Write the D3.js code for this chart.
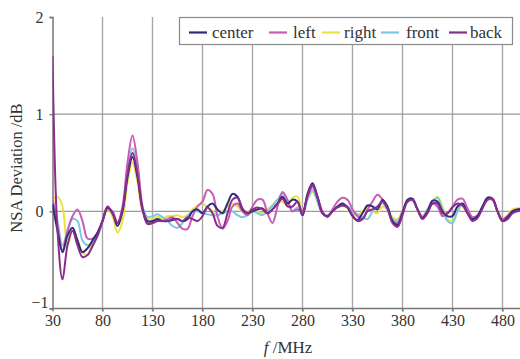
<!DOCTYPE html>
<html><head><meta charset="utf-8">
<script src="https://cdn.jsdelivr.net/npm/d3@7"></script>
<style>html,body{margin:0;padding:0;background:#fff;}svg{display:block;}</style>
</head><body>
<svg id="chart" width="520" height="359"></svg>
<script>
const freqs = d3.range(30, 501, 5);
const xTicks = [30, 80, 130, 180, 230, 280, 330, 380, 430, 480];
const yTicks = [-1, 0, 1, 2];
const seriesNames = ["center", "left", "right", "front", "back"];
const seriesColors = ["#2c2c78", "#c85cb8", "#ece23c", "#7cc8e2", "#8a2c8c"];

const center = [0.08,-0.2,-0.42,-0.25,-0.17,-0.3,-0.42,-0.38,-0.3,-0.22,-0.1,0.04,-0.02,-0.15,0.0,0.35,0.56,0.35,0.02,-0.1,
-0.1,-0.08,-0.1,-0.1,-0.09,-0.08,-0.1,-0.08,0.0,0.02,-0.02,0.05,0.08,0.02,-0.02,0.08,0.18,0.15,0.02,-0.02,
0.0,0.02,0.03,-0.02,0.02,0.08,0.15,0.08,0.12,0.1,-0.04,0.18,0.29,0.15,-0.02,-0.05,0.0,0.05,0.08,0.04,
-0.05,-0.09,-0.02,0.06,0.05,0.02,0.12,0.05,-0.1,-0.14,-0.02,0.12,0.13,0.02,-0.07,0.0,0.11,0.1,0.0,-0.05,
-0.05,0.05,0.08,-0.02,-0.08,-0.05,0.05,0.14,0.13,0.0,-0.1,-0.06,0.0,0.02,0.02];
const left = [0.15,-0.15,-0.4,-0.2,-0.05,0.02,-0.1,-0.28,-0.28,-0.22,-0.1,0.03,0.0,-0.12,0.05,0.5,0.78,0.5,0.05,-0.12,
-0.12,-0.1,-0.1,-0.08,-0.06,-0.12,-0.18,-0.18,-0.05,0.05,0.1,0.22,0.18,-0.05,-0.18,-0.1,0.05,0.08,0.0,-0.04,
0.05,0.12,0.12,-0.02,-0.12,0.05,0.2,0.12,0.0,0.02,0.0,0.15,0.25,0.15,0.0,-0.06,0.02,0.1,0.14,0.12,
0.02,-0.05,-0.08,0.02,0.1,0.17,0.12,0.02,-0.1,-0.12,0.0,0.1,0.12,0.02,-0.06,0.0,0.08,0.05,-0.05,-0.02,
0.05,0.12,0.13,0.03,-0.06,-0.04,0.05,0.12,0.12,0.0,-0.08,-0.05,0.0,0.02,0.02];
const right = [0.12,0.15,0.05,-0.35,-0.2,-0.3,-0.42,-0.45,-0.32,-0.25,-0.1,0.02,-0.05,-0.22,-0.1,0.3,0.5,0.3,0.0,-0.08,
-0.08,-0.05,-0.08,-0.05,-0.05,-0.04,-0.06,-0.04,0.02,0.06,0.08,0.04,0.0,-0.04,0.0,0.05,0.08,0.05,0.0,-0.02,
0.04,0.0,-0.02,0.02,0.06,0.08,0.1,0.06,0.14,0.15,0.0,0.12,0.2,0.1,-0.02,-0.04,0.0,0.05,0.06,0.03,
-0.02,-0.04,0.0,0.03,0.0,-0.02,0.05,0.02,-0.06,-0.08,0.0,0.1,0.11,0.02,-0.05,0.02,0.1,0.15,0.05,-0.08,
-0.1,0.0,0.06,0.0,-0.06,-0.04,0.04,0.12,0.12,0.0,-0.08,-0.04,0.02,0.03,0.04];
const front = [0.1,-0.1,-0.35,-0.2,-0.08,-0.1,-0.3,-0.35,-0.33,-0.26,-0.1,0.02,0.0,-0.12,0.0,0.4,0.65,0.45,0.05,-0.06,
-0.05,-0.03,-0.06,-0.1,-0.15,-0.17,-0.12,-0.05,0.0,0.0,-0.02,-0.03,-0.04,-0.04,-0.02,0.0,0.0,-0.04,-0.06,-0.04,
0.0,-0.02,-0.04,0.0,0.06,0.12,0.18,0.1,0.0,0.04,-0.04,0.12,0.22,0.1,-0.02,-0.04,0.0,0.05,0.06,0.05,
0.0,-0.03,-0.06,-0.08,0.0,0.05,0.08,0.02,-0.08,-0.1,0.0,0.1,0.11,0.02,-0.05,0.02,0.1,0.14,0.02,-0.1,
-0.12,0.0,0.08,0.0,-0.07,-0.05,0.04,0.12,0.12,0.0,-0.09,-0.05,0.0,0.02,0.03];
const back = [1.6,-0.2,-0.7,-0.35,-0.2,-0.35,-0.47,-0.45,-0.36,-0.25,-0.1,0.05,-0.02,-0.12,0.02,0.38,0.6,0.38,0.02,-0.13,
-0.12,-0.1,-0.1,-0.1,-0.08,-0.08,-0.1,-0.06,-0.08,-0.1,-0.05,0.04,-0.02,-0.15,-0.17,-0.02,0.12,0.14,0.03,-0.02,
0.02,0.04,0.02,-0.02,0.02,0.08,0.13,0.05,0.05,0.1,-0.03,0.16,0.27,0.14,-0.02,-0.05,0.0,0.04,0.06,0.04,
-0.04,-0.1,-0.08,0.0,0.02,0.05,0.1,0.03,-0.12,-0.16,-0.04,0.1,0.12,0.02,-0.08,-0.02,0.08,0.08,-0.02,-0.02,
0.04,0.08,0.06,-0.02,-0.1,-0.07,0.03,0.12,0.13,0.0,-0.1,-0.08,-0.02,0.0,0.01];

const seriesValues = [center, left, right, front, back];
const drawOrder = [2, 3, 1, 0, 4];

const svg = d3.select("#chart");
const W = 520, H = 359;
const x = d3.scaleLinear().domain([30, 500]).range([52.5, 522.5]);
const y = d3.scaleLinear().domain([-1, 2]).range([308.5, 17]);
const serif = "'Liberation Serif','Times New Roman',serif";

// vertical grid lines
svg.append("g").selectAll("line").data(xTicks.slice(1)).join("line")
  .attr("x1", d => x(d)).attr("x2", d => x(d))
  .attr("y1", y(2)).attr("y2", y(-1) + 3)
  .attr("stroke", "#a8a8a8").attr("stroke-width", 1.4);
// horizontal grid
svg.append("g").selectAll("line").data([0, 1]).join("line")
  .attr("x1", x(30)).attr("x2", W)
  .attr("y1", d => y(d)).attr("y2", d => y(d))
  .attr("stroke", "#9a9a9a").attr("stroke-width", 1.4);

// axes
const xAxis = svg.append("g").attr("transform", `translate(0,${y(-1)})`)
  .call(d3.axisBottom(x).tickValues(xTicks).tickSize(3).tickPadding(3));
const yAxis = svg.append("g").attr("transform", `translate(${x(30)},0)`)
  .call(d3.axisLeft(y).tickValues(yTicks).tickSize(3).tickPadding(6).tickFormat(d => d < 0 ? "\u22121" : d));
[xAxis, yAxis].forEach(a => {
  a.select(".domain").attr("stroke", "#777").attr("stroke-width", 1.5);
  a.selectAll(".tick line").attr("stroke", "#777").attr("stroke-width", 1.4);
  a.selectAll("text").attr("font-family", serif).attr("font-size", 16).attr("fill", "#333");
});
xAxis.select(".domain").attr("d", `M${x(30)},0H${W}`);
yAxis.selectAll(".tick").filter(d => d === -1).select("text").attr("dy", "-0.05em").attr("x", -4);

// clip
svg.append("clipPath").attr("id", "clip").append("rect")
  .attr("x", x(30)).attr("y", 0).attr("width", W - x(30)).attr("height", y(-1));

const line = d3.line().x((d, i) => x(freqs[i])).y(d => y(d)).curve(d3.curveCatmullRom.alpha(0.5));
const lines = svg.append("g").attr("clip-path", "url(#clip)");
drawOrder.forEach(k => {
  lines.append("path").datum(seriesValues[k])
    .attr("d", line).attr("fill", "none")
    .attr("stroke", seriesColors[k]).attr("stroke-width", 2)
    .attr("stroke-linejoin", "round");
});

// legend
const lg = svg.append("g");
lg.append("rect").attr("x", 179.5).attr("y", 17.5).attr("width", 333).attr("height", 27)
  .attr("fill", "#fff").attr("stroke", "#8a8a8a").attr("stroke-width", 1.2);
const legX = [189, 269, 322, 381, 449];
const legTextX = [212, 293, 344, 406, 470];
seriesNames.forEach((n, i) => {
  lg.append("line").attr("x1", legX[i]).attr("x2", legX[i] + 18).attr("y1", 32.5).attr("y2", 32.5)
    .attr("stroke", seriesColors[i]).attr("stroke-width", 2.2);
  lg.append("text").attr("x", legTextX[i]).attr("y", 38).text(n)
    .attr("font-family", serif).attr("font-size", 17).attr("fill", "#333");
});

// axis titles
svg.append("text").attr("transform", "translate(22,168) rotate(-90)")
  .attr("text-anchor", "middle").attr("font-family", serif).attr("font-size", 16.5).attr("fill", "#333")
  .text("NSA Deviation /dB");
const xt = svg.append("text").attr("x", 288).attr("y", 353).attr("text-anchor", "middle")
  .attr("font-family", serif).attr("font-size", 17).attr("fill", "#333");
xt.append("tspan").attr("font-style", "italic").text("f");
xt.append("tspan").text(" /MHz");
</script>
</body></html>
